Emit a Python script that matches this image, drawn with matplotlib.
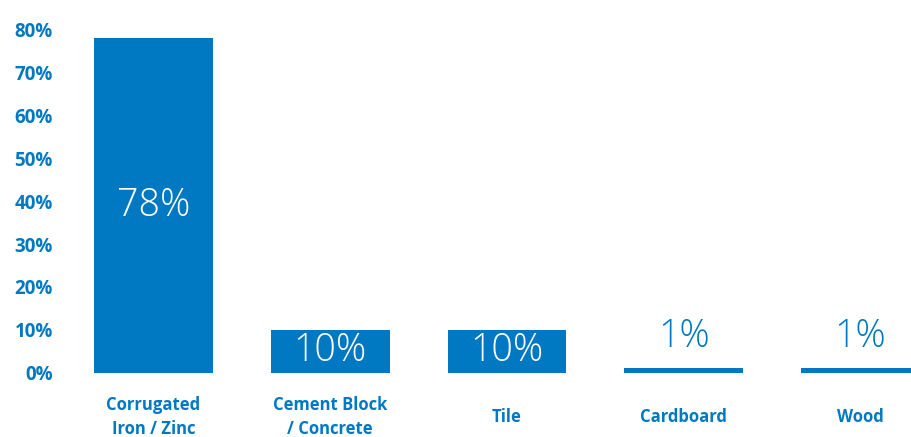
import matplotlib.pyplot as plt

categories = ['Corrugated\nIron / Zinc', 'Cement Block\n/ Concrete', 'Tile', 'Cardboard', 'Wood']
shares = [78, 10, 10, 1, 1]
yticks = [0, 10, 20, 30, 40, 50, 60, 70, 80]

blue = '#0079c2'
plt.rcParams['font.family'] = ['Open Sans', 'DejaVu Sans']

fig = plt.figure(figsize = (9.11, 4.37), dpi = 100)
ax = fig.add_axes([0, 0, 1, 1])

x = list(range(len(categories)))
bars = ax.bar(x, shares, width = 0.673, color = blue)

ax.set_xlim(-0.8685, 4.2857)
ax.set_ylim(-15.0, 86.9)

# value labels: inside tall bars, above thin ones
for b, v in zip(bars, shares):
    cx = b.get_x() + b.get_width() / 2
    if v >= 5:
        ax.text(cx, v / 2, '{}%'.format(v), ha = 'center', va = 'center',
                color = 'white', fontsize = 27, fontweight = 'light')
    else:
        ax.annotate('{}%'.format(v), (cx, v), xytext = (0, 9), textcoords = 'offset points',
                    ha = 'center', va = 'bottom', color = blue, fontsize = 27, fontweight = 'light')

# category names under the bars
for xi, name in zip(x, categories):
    ax.text(xi, 0.046, name, transform = ax.get_xaxis_transform(), ha = 'center', va = 'center',
            color = blue, fontsize = 12, fontweight = 'bold', linespacing = 1.45)

ax.set_xticks([])
ax.set_yticks(yticks)
ax.set_yticklabels(['{}%'.format(t) for t in yticks])
ax.tick_params(axis = 'y', length = 0, pad = -38, labelsize = 13.5, labelcolor = blue)
for lab in ax.get_yticklabels():
    lab.set_fontweight('bold')
    lab.set_horizontalalignment('right')

for s in ax.spines.values():
    s.set_visible(False)

plt.savefig('out.png', dpi = 100)
